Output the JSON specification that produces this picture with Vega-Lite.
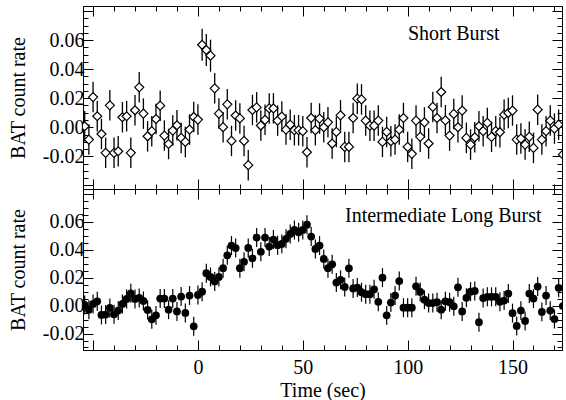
{
  "$schema": "https://vega.github.io/schema/vega-lite/v6.json",
  "background": "white",
  "padding": {"left": 7, "top": 0, "right": 0, "bottom": 1},
  "spacing": 0,
  "bounds": "flush",
  "config": {
    "font": "Liberation Serif, Times New Roman, serif",
    "view": {"stroke": "black", "strokeWidth": 1},
    "axis": {
      "grid": false,
      "domainColor": "black",
      "domainWidth": 1,
      "tickColor": "black",
      "tickWidth": 1,
      "labelColor": "black",
      "titleColor": "black",
      "labelFont": "Liberation Serif, Times New Roman, serif",
      "titleFont": "Liberation Serif, Times New Roman, serif",
      "labelFontSize": 20,
      "titleFontSize": 20,
      "titleFontWeight": "normal",
      "labelOverlap": false,
      "labelFlush": false,
      "labelBound": false
    }
  },
  "datasets": {
    "short": [
      {"t":-54,"r":0.0007,"e":0.0105},{"t":-52,"r":-0.0085,"e":0.0105},{"t":-50,"r":0.0208,"e":0.0105},{"t":-48,"r":0.0076,"e":0.0105},{"t":-46,"r":-0.0046,"e":0.0105},
      {"t":-44,"r":-0.0176,"e":0.0105},{"t":-42,"r":0.0151,"e":0.0105},{"t":-40,"r":-0.0176,"e":0.0105},{"t":-38,"r":-0.0165,"e":0.0105},{"t":-36,"r":0.0069,"e":0.0105},
      {"t":-34,"r":0.0076,"e":0.0105},{"t":-32,"r":-0.0176,"e":0.0105},{"t":-30,"r":0.0117,"e":0.0105},{"t":-28,"r":0.0275,"e":0.0105},{"t":-26,"r":0.0094,"e":0.0105},
      {"t":-24,"r":-0.0062,"e":0.0105},{"t":-22,"r":-0.0027,"e":0.0105},{"t":-20,"r":0.0057,"e":0.0105},{"t":-18,"r":0.0149,"e":0.0105},{"t":-16,"r":-0.0057,"e":0.0105},
      {"t":-14,"r":-0.0115,"e":0.0105},{"t":-12,"r":-0.0023,"e":0.0105},{"t":-10,"r":0.0014,"e":0.0105},{"t":-8,"r":-0.0073,"e":0.0105},{"t":-6,"r":-0.0101,"e":0.0105},
      {"t":-4,"r":-0.0016,"e":0.0105},{"t":-2,"r":0.0071,"e":0.0105},{"t":0,"r":0.0053,"e":0.0105},{"t":2,"r":0.0568,"e":0.011},{"t":4,"r":0.0532,"e":0.011},
      {"t":6,"r":0.0493,"e":0.011},{"t":8,"r":0.0268,"e":0.0105},{"t":10,"r":0.0094,"e":0.0105},{"t":12,"r":0.0001,"e":0.0105},{"t":14,"r":0.0158,"e":0.0105},
      {"t":16,"r":-0.0094,"e":0.0105},{"t":18,"r":0.0081,"e":0.0105},{"t":20,"r":0.0061,"e":0.0105},{"t":22,"r":-0.0094,"e":0.0105},{"t":24,"r":-0.0261,"e":0.0105},
      {"t":26,"r":0.0119,"e":0.0105},{"t":28,"r":0.0137,"e":0.0105},{"t":30,"r":0.0012,"e":0.0105},{"t":32,"r":0.0051,"e":0.0105},{"t":34,"r":0.013,"e":0.0105},
      {"t":36,"r":0.013,"e":0.0105},{"t":38,"r":0.0046,"e":0.0105},{"t":40,"r":0.0074,"e":0.0105},{"t":42,"r":-0.0016,"e":0.0105},{"t":44,"r":0.0018,"e":0.0105},
      {"t":46,"r":-0.002,"e":0.0105},{"t":48,"r":-0.002,"e":0.0105},{"t":50,"r":-0.0027,"e":0.0105},{"t":52,"r":-0.0172,"e":0.0105},{"t":54,"r":0.0064,"e":0.0105},
      {"t":56,"r":-0.002,"e":0.0105},{"t":58,"r":0.006,"e":0.0105},{"t":60,"r":0.0,"e":0.0105},{"t":62,"r":0.0034,"e":0.0105},{"t":64,"r":-0.0112,"e":0.0105},
      {"t":66,"r":-0.0032,"e":0.0105},{"t":68,"r":0.0082,"e":0.0105},{"t":70,"r":-0.0135,"e":0.0105},{"t":72,"r":-0.0135,"e":0.0105},{"t":74,"r":0.0064,"e":0.0105},
      {"t":76,"r":0.0197,"e":0.0105},{"t":78,"r":0.0192,"e":0.0105},{"t":80,"r":0.0046,"e":0.0105},{"t":82,"r":0.0011,"e":0.0105},{"t":84,"r":0.0011,"e":0.0105},
      {"t":86,"r":0.0046,"e":0.0105},{"t":88,"r":-0.0101,"e":0.0105},{"t":90,"r":-0.0032,"e":0.0105},{"t":92,"r":-0.0096,"e":0.0105},{"t":94,"r":-0.0085,"e":0.0105},
      {"t":96,"r":-0.0016,"e":0.0105},{"t":98,"r":0.0064,"e":0.0105},{"t":100,"r":-0.0135,"e":0.0105},{"t":102,"r":-0.0183,"e":0.0105},{"t":104,"r":0.0046,"e":0.0105},
      {"t":106,"r":-0.0066,"e":0.0105},{"t":108,"r":0.0034,"e":0.0105},{"t":110,"r":-0.0112,"e":0.0105},{"t":112,"r":0.014,"e":0.0105},{"t":114,"r":0.0064,"e":0.0105},
      {"t":116,"r":0.0243,"e":0.0105},{"t":118,"r":0.0048,"e":0.0105},{"t":120,"r":-0.0057,"e":0.0105},{"t":122,"r":0.0092,"e":0.0105},{"t":124,"r":0.0,"e":0.0105},
      {"t":126,"r":0.0115,"e":0.0105},{"t":128,"r":-0.0073,"e":0.0105},{"t":130,"r":-0.0119,"e":0.0105},{"t":132,"r":-0.0069,"e":0.0105},{"t":134,"r":0.0007,"e":0.0105},
      {"t":136,"r":-0.0027,"e":0.0105},{"t":138,"r":0.003,"e":0.0105},{"t":140,"r":-0.0066,"e":0.0105},{"t":142,"r":-0.0027,"e":0.0105},{"t":144,"r":-0.0034,"e":0.0105},
      {"t":146,"r":0.0087,"e":0.0105},{"t":148,"r":0.0099,"e":0.0105},{"t":150,"r":0.0115,"e":0.0105},{"t":152,"r":-0.0085,"e":0.0105},{"t":154,"r":-0.0078,"e":0.0105},
      {"t":156,"r":-0.0119,"e":0.0105},{"t":158,"r":-0.0066,"e":0.0105},{"t":160,"r":-0.0142,"e":0.0105},{"t":162,"r":0.0121,"e":0.0105},{"t":164,"r":-0.0085,"e":0.0105},
      {"t":166,"r":-0.0027,"e":0.0105},{"t":168,"r":0.0046,"e":0.0105},{"t":170,"r":-0.0009,"e":0.0105},{"t":172,"r":0.0018,"e":0.0105},{"t":174,"r":-0.0188,"e":0.0105}
    ],
    "long": [
      {"t":-54,"r":0.0005,"e":0.0068},{"t":-52,"r":-0.0029,"e":0.0068},{"t":-50,"r":0.0012,"e":0.0068},{"t":-48,"r":0.0031,"e":0.0068},{"t":-46,"r":-0.0067,"e":0.0068},
      {"t":-44,"r":-0.0064,"e":0.0068},{"t":-42,"r":-0.0017,"e":0.0068},{"t":-40,"r":-0.0062,"e":0.0068},{"t":-38,"r":-0.0036,"e":0.0068},{"t":-36,"r":0.0012,"e":0.0068},
      {"t":-34,"r":0.0048,"e":0.0068},{"t":-32,"r":0.0088,"e":0.0068},{"t":-30,"r":0.0048,"e":0.0068},{"t":-28,"r":0.0055,"e":0.0068},{"t":-26,"r":0.0033,"e":0.0068},
      {"t":-24,"r":-0.0031,"e":0.0068},{"t":-22,"r":-0.0098,"e":0.0068},{"t":-20,"r":-0.007,"e":0.0068},{"t":-18,"r":0.005,"e":0.0068},{"t":-16,"r":0.005,"e":0.0068},
      {"t":-14,"r":-0.0029,"e":0.0068},{"t":-12,"r":0.005,"e":0.0068},{"t":-10,"r":-0.0042,"e":0.0068},{"t":-8,"r":0.0065,"e":0.0068},{"t":-6,"r":-0.0053,"e":0.0068},
      {"t":-4,"r":0.0072,"e":0.0068},{"t":-2,"r":-0.0148,"e":0.0068},{"t":0,"r":0.0076,"e":0.0068},{"t":2,"r":0.01,"e":0.0068},{"t":4,"r":0.0232,"e":0.0068},
      {"t":6,"r":0.0205,"e":0.0068},{"t":8,"r":0.0173,"e":0.0068},{"t":10,"r":0.0205,"e":0.0068},{"t":12,"r":0.0268,"e":0.0068},{"t":14,"r":0.036,"e":0.0068},
      {"t":16,"r":0.043,"e":0.0068},{"t":18,"r":0.0412,"e":0.0068},{"t":20,"r":0.0268,"e":0.0068},{"t":22,"r":0.0314,"e":0.0068},{"t":24,"r":0.0413,"e":0.0068},
      {"t":26,"r":0.0339,"e":0.0068},{"t":28,"r":0.0487,"e":0.0068},{"t":30,"r":0.0385,"e":0.0068},{"t":32,"r":0.0487,"e":0.0068},{"t":34,"r":0.0423,"e":0.0068},
      {"t":36,"r":0.0473,"e":0.0068},{"t":38,"r":0.0433,"e":0.0068},{"t":40,"r":0.0442,"e":0.0068},{"t":42,"r":0.0478,"e":0.0068},{"t":44,"r":0.0513,"e":0.0068},
      {"t":46,"r":0.0542,"e":0.0068},{"t":48,"r":0.0525,"e":0.0068},{"t":50,"r":0.0542,"e":0.0068},{"t":52,"r":0.0579,"e":0.0068},{"t":54,"r":0.0494,"e":0.0068},
      {"t":56,"r":0.0406,"e":0.0068},{"t":58,"r":0.043,"e":0.0068},{"t":60,"r":0.0334,"e":0.0068},{"t":62,"r":0.0268,"e":0.0068},{"t":64,"r":0.0296,"e":0.0068},
      {"t":66,"r":0.0165,"e":0.0068},{"t":68,"r":0.0185,"e":0.0068},{"t":70,"r":0.0134,"e":0.0068},{"t":72,"r":0.0267,"e":0.0068},{"t":74,"r":0.0123,"e":0.0068},
      {"t":76,"r":0.0129,"e":0.0068},{"t":78,"r":0.0096,"e":0.0068},{"t":80,"r":0.0082,"e":0.0068},{"t":82,"r":0.0082,"e":0.0068},{"t":84,"r":0.0117,"e":0.0068},
      {"t":86,"r":0.0027,"e":0.0068},{"t":88,"r":0.02,"e":0.0068},{"t":90,"r":-0.007,"e":0.0068},{"t":92,"r":0.0022,"e":0.0068},{"t":94,"r":0.0072,"e":0.0068},
      {"t":96,"r":0.0176,"e":0.0068},{"t":98,"r":-0.0015,"e":0.0068},{"t":100,"r":-0.0015,"e":0.0068},{"t":102,"r":-0.0015,"e":0.0068},{"t":104,"r":0.0138,"e":0.0068},
      {"t":106,"r":0.0098,"e":0.0068},{"t":108,"r":0.0042,"e":0.0068},{"t":110,"r":0.0018,"e":0.0068},{"t":112,"r":0.0018,"e":0.0068},{"t":114,"r":0.0024,"e":0.0068},
      {"t":116,"r":-0.0029,"e":0.0068},{"t":118,"r":0.0031,"e":0.0068},{"t":120,"r":0.0024,"e":0.0068},{"t":122,"r":-0.0005,"e":0.0068},{"t":124,"r":0.0131,"e":0.0068},
      {"t":126,"r":-0.0042,"e":0.0068},{"t":128,"r":0.0056,"e":0.0068},{"t":130,"r":0.01,"e":0.0068},{"t":132,"r":0.0105,"e":0.0068},{"t":134,"r":-0.0119,"e":0.0068},
      {"t":136,"r":0.0054,"e":0.0068},{"t":138,"r":0.0063,"e":0.0068},{"t":140,"r":0.0063,"e":0.0068},{"t":142,"r":0.0063,"e":0.0068},{"t":144,"r":0.0028,"e":0.0068},
      {"t":146,"r":0.0036,"e":0.0068},{"t":148,"r":0.0086,"e":0.0068},{"t":150,"r":-0.0054,"e":0.0068},{"t":152,"r":-0.0146,"e":0.0068},{"t":154,"r":-0.0036,"e":0.0068},
      {"t":156,"r":-0.011,"e":0.0068},{"t":158,"r":0.0086,"e":0.0068},{"t":160,"r":0.005,"e":0.0068},{"t":162,"r":0.0136,"e":0.0068},{"t":164,"r":-0.0045,"e":0.0068},
      {"t":166,"r":0.0072,"e":0.0068},{"t":168,"r":-0.0036,"e":0.0068},{"t":170,"r":-0.0096,"e":0.0068},{"t":172,"r":0.0127,"e":0.0068},{"t":174,"r":-0.0003,"e":0.0068}
    ],
    "labels1": [{"t":122,"r":0.0598,"label":"Short Burst"}],
    "labels2": [{"t":117,"r":0.0597,"label":"Intermediate Long Burst"}]
  },
  "vconcat": [
    {
      "width": 479,
      "height": 183,
      "resolve": {"axis": {"x": "independent", "y": "independent"}},
      "layer": [
        {
          "data": {"name": "short"},
          "mark": {"type": "errorbar", "color": "black", "thickness": 1.3, "clip": true},
          "encoding": {
            "x": {"field": "t", "type": "quantitative",
              "scale": {"domain": [-54.8, 173.6], "nice": false, "zero": false},
              "axis": {"orient": "bottom", "title": null, "labels": false,
                "values": [-50,-40,-30,-20,-10,0,10,20,30,40,50,60,70,80,90,100,110,120,130,140,150,160,170],
                "tickSize": {"condition": {"test": "indexof([-50,0,50,100,150], datum.value) >= 0", "value": -10}, "value": -5}}},
            "y": {"field": "r", "type": "quantitative",
              "scale": {"domain": [-0.0425, 0.0835], "nice": false, "zero": false},
              "axis": {"orient": "left", "title": "BAT count rate", "titlePadding": 14, "labelPadding": 9,
                "values": [-0.04,-0.035,-0.03,-0.025,-0.02,-0.015,-0.01,-0.005,0,0.005,0.01,0.015,0.02,0.025,0.03,0.035,0.04,0.045,0.05,0.055,0.06,0.065,0.07,0.075,0.08],
                "labelExpr": "datum.value == -0.02 ? '-0.02' : (indexof([0,0.02,0.04,0.06], datum.value) >= 0 ? format(datum.value, '.2f') : '')",
                "tickSize": {"condition": {"test": "indexof([-0.04,-0.02,0,0.02,0.04,0.06,0.08], datum.value) >= 0", "value": -10}, "value": -5}}},
            "yError": {"field": "e"}
          }
        },
        {
          "data": {"name": "short"},
          "mark": {"type": "point", "shape": "diamond", "size": 81, "filled": true, "fill": "white", "stroke": "black", "strokeWidth": 1.2, "opacity": 1, "clip": true},
          "encoding": {
            "x": {"field": "t", "type": "quantitative",
              "axis": {"orient": "top", "title": null, "labels": false,
                "values": [-50,-40,-30,-20,-10,0,10,20,30,40,50,60,70,80,90,100,110,120,130,140,150,160,170],
                "tickSize": {"condition": {"test": "indexof([-50,0,50,100,150], datum.value) >= 0", "value": -10}, "value": -5}}},
            "y": {"field": "r", "type": "quantitative",
              "axis": {"orient": "right", "title": null, "labels": false,
                "values": [-0.04,-0.035,-0.03,-0.025,-0.02,-0.015,-0.01,-0.005,0,0.005,0.01,0.015,0.02,0.025,0.03,0.035,0.04,0.045,0.05,0.055,0.06,0.065,0.07,0.075,0.08],
                "tickSize": {"condition": {"test": "indexof([-0.04,-0.02,0,0.02,0.04,0.06,0.08], datum.value) >= 0", "value": -10}, "value": -5}}}
          }
        },
        {
          "data": {"name": "labels1"},
          "mark": {"type": "text", "font": "Liberation Serif, Times New Roman, serif", "fontSize": 20, "color": "black", "align": "center", "baseline": "alphabetic"},
          "encoding": {
            "x": {"field": "t", "type": "quantitative", "axis": null},
            "y": {"field": "r", "type": "quantitative", "axis": null},
            "text": {"field": "label"}
          }
        }
      ]
    },
    {
      "width": 479,
      "height": 161,
      "resolve": {"axis": {"x": "independent", "y": "independent"}},
      "layer": [
        {
          "data": {"name": "long"},
          "mark": {"type": "errorbar", "color": "black", "thickness": 1.2, "clip": true},
          "encoding": {
            "x": {"field": "t", "type": "quantitative",
              "scale": {"domain": [-54.8, 173.6], "nice": false, "zero": false},
              "axis": {"orient": "bottom", "title": "Time (sec)", "titlePadding": -2, "labelPadding": 17,
                "values": [-50,-40,-30,-20,-10,0,10,20,30,40,50,60,70,80,90,100,110,120,130,140,150,160,170],
                "labelExpr": "indexof([0,50,100,150], datum.value) >= 0 ? format(datum.value, 'd') : ''",
                "tickSize": {"condition": {"test": "indexof([-50,0,50,100,150], datum.value) >= 0", "value": -10}, "value": -5}}},
            "y": {"field": "r", "type": "quantitative",
              "scale": {"domain": [-0.0318, 0.0835], "nice": false, "zero": false},
              "axis": {"orient": "left", "title": "BAT count rate", "titlePadding": 14, "labelPadding": 9,
                "values": [-0.03,-0.025,-0.02,-0.015,-0.01,-0.005,0,0.005,0.01,0.015,0.02,0.025,0.03,0.035,0.04,0.045,0.05,0.055,0.06,0.065,0.07,0.075,0.08],
                "labelExpr": "datum.value == -0.02 ? '-0.02' : (indexof([0,0.02,0.04,0.06], datum.value) >= 0 ? format(datum.value, '.2f') : '')",
                "tickSize": {"condition": {"test": "indexof([-0.02,0,0.02,0.04,0.06,0.08], datum.value) >= 0", "value": -10}, "value": -5}}},
            "yError": {"field": "e"}
          }
        },
        {
          "data": {"name": "long"},
          "mark": {"type": "point", "shape": "circle", "size": 60, "filled": true, "color": "black", "opacity": 1, "clip": true},
          "encoding": {
            "x": {"field": "t", "type": "quantitative",
              "axis": {"orient": "top", "title": null, "labels": false,
                "values": [-50,-40,-30,-20,-10,0,10,20,30,40,50,60,70,80,90,100,110,120,130,140,150,160,170],
                "tickSize": {"condition": {"test": "indexof([-50,0,50,100,150], datum.value) >= 0", "value": -10}, "value": -5}}},
            "y": {"field": "r", "type": "quantitative",
              "axis": {"orient": "right", "title": null, "labels": false,
                "values": [-0.03,-0.025,-0.02,-0.015,-0.01,-0.005,0,0.005,0.01,0.015,0.02,0.025,0.03,0.035,0.04,0.045,0.05,0.055,0.06,0.065,0.07,0.075,0.08],
                "tickSize": {"condition": {"test": "indexof([-0.02,0,0.02,0.04,0.06,0.08], datum.value) >= 0", "value": -10}, "value": -5}}}
          }
        },
        {
          "data": {"name": "labels2"},
          "mark": {"type": "text", "font": "Liberation Serif, Times New Roman, serif", "fontSize": 20, "color": "black", "align": "center", "baseline": "alphabetic"},
          "encoding": {
            "x": {"field": "t", "type": "quantitative", "axis": null},
            "y": {"field": "r", "type": "quantitative", "axis": null},
            "text": {"field": "label"}
          }
        }
      ]
    }
  ]
}
